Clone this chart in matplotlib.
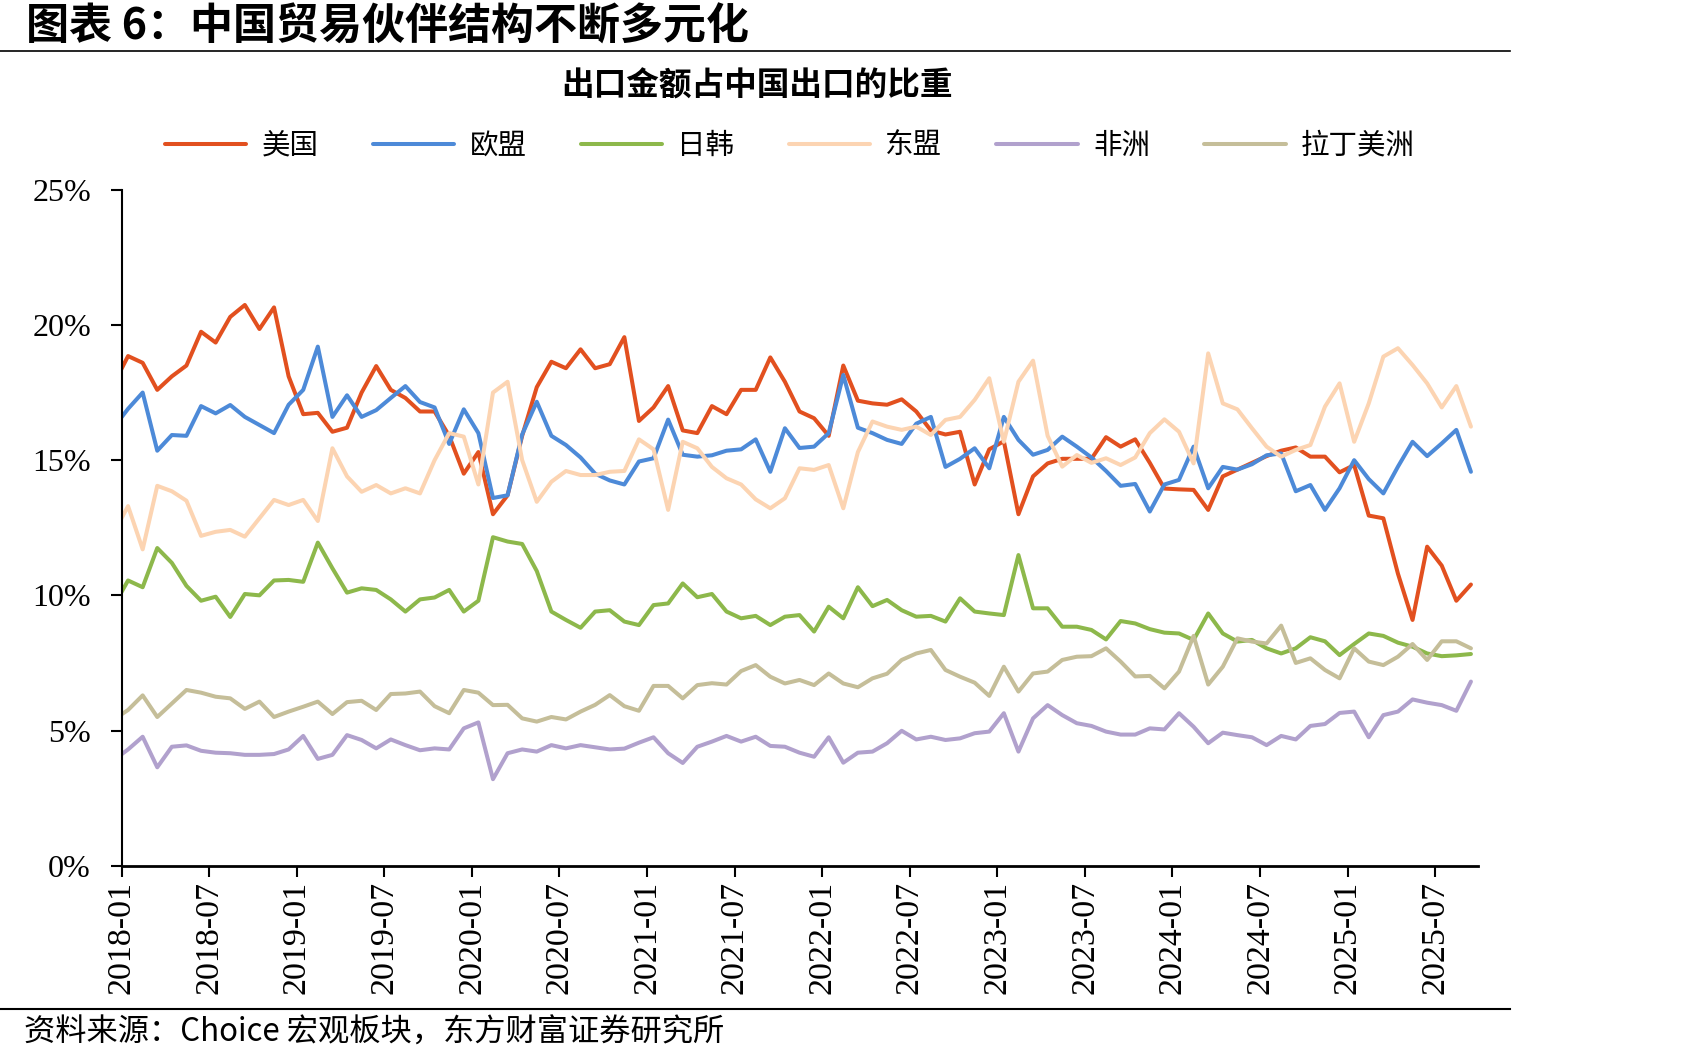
import numpy as np
import pandas as pd
import matplotlib
matplotlib.use("Agg")
import matplotlib.pyplot as plt
from matplotlib.lines import Line2D

plt.rcParams['font.family'] = ['Noto Sans CJK SC', 'DejaVu Sans']

# monthly share of China's exports (%), 2017-12 .. 2025-09
months = pd.date_range('2017-12-01', '2025-09-01', freq='MS').strftime('%Y-%m').tolist()

us = [17.8, 18.85, 18.6, 17.6, 18.1, 18.5, 19.75, 19.35, 20.3, 20.74, 19.85, 20.65, 18.1,
      16.7, 16.75, 16.05, 16.2, 17.5, 18.48, 17.6, 17.3, 16.8, 16.8, 15.9, 14.5,
      15.3, 13.0, 13.7, 15.9, 17.7, 18.64, 18.4, 19.1, 18.4, 18.55, 19.55, 16.45,
      16.95, 17.74, 16.1, 16.0, 17.0, 16.7, 17.6, 17.6, 18.8, 17.9, 16.8, 16.55,
      15.9, 18.5, 17.2, 17.1, 17.05, 17.25, 16.8, 16.1, 15.95, 16.05, 14.1, 15.4,
      15.7, 13.0, 14.4, 14.88, 15.05, 15.05, 15.05, 15.85, 15.5, 15.77, 14.9, 13.95,
      13.92, 13.9, 13.16, 14.4, 14.65, 14.9, 15.15, 15.35, 15.47, 15.13, 15.13, 14.55,
      14.82, 12.95, 12.85, 10.8, 9.09, 11.8, 11.1, 9.8, 10.4]
eu = [16.2, 16.9, 17.5, 15.35, 15.93, 15.9, 17.0, 16.73, 17.04, 16.6, 16.3, 16.0, 17.05,
      17.6, 19.2, 16.6, 17.4, 16.6, 16.85, 17.3, 17.74, 17.15, 16.95, 15.6, 16.88,
      16.0, 13.6, 13.7, 15.95, 17.16, 15.9, 15.56, 15.1, 14.5, 14.25, 14.1, 14.95,
      15.07, 16.5, 15.2, 15.13, 15.18, 15.35, 15.4, 15.77, 14.57, 16.18, 15.45, 15.5,
      16.0, 18.15, 16.2, 16.0, 15.75, 15.6, 16.35, 16.6, 14.75, 15.05, 15.44, 14.7,
      16.6, 15.75, 15.2, 15.38, 15.87, 15.5, 15.1, 14.6, 14.05, 14.12, 13.1, 14.1,
      14.27, 15.5, 13.96, 14.75, 14.65, 14.85, 15.18, 15.25, 13.85, 14.08, 13.16, 13.96,
      15.0, 14.3, 13.77, 14.76, 15.68, 15.15, 15.62, 16.12, 14.57]
jpkr = [9.6, 10.55, 10.3, 11.75, 11.2, 10.35, 9.8, 9.95, 9.2, 10.05, 10.0, 10.55, 10.57,
        10.5, 11.95, 11.0, 10.1, 10.26, 10.2, 9.85, 9.4, 9.85, 9.92, 10.2, 9.4,
        9.8, 12.15, 11.99, 11.9, 10.9, 9.4, 9.09, 8.8, 9.4, 9.45, 9.03, 8.9,
        9.64, 9.7, 10.44, 9.93, 10.05, 9.4, 9.15, 9.24, 8.9, 9.21, 9.27, 8.66,
        9.58, 9.15, 10.3, 9.6, 9.83, 9.45, 9.21, 9.24, 9.03, 9.89, 9.4, 9.33,
        9.27, 11.49, 9.52, 9.52, 8.84, 8.84, 8.72, 8.37, 9.05, 8.96, 8.75, 8.62,
        8.59, 8.35, 9.33, 8.59, 8.29, 8.35, 8.04, 7.85, 8.04, 8.45, 8.3, 7.79,
        8.2, 8.59, 8.5, 8.25, 8.1, 7.85, 7.75, 7.78, 7.83]
asean = [12.3, 13.3, 11.7, 14.05, 13.85, 13.5, 12.2, 12.35, 12.42, 12.17, 12.85, 13.53, 13.34,
         13.53, 12.75, 15.44, 14.4, 13.83, 14.08, 13.77, 13.96, 13.77, 15.0, 16.0, 15.87,
         14.1, 17.5, 17.9, 15.0, 13.46, 14.2, 14.6, 14.45, 14.45, 14.57, 14.6, 15.77,
         15.4, 13.16, 15.68, 15.44, 14.75, 14.33, 14.1, 13.55, 13.22, 13.59, 14.7, 14.64,
         14.82, 13.22, 15.3, 16.43, 16.24, 16.12, 16.24, 15.93, 16.49, 16.6, 17.23, 18.03,
         15.68, 17.9, 18.68, 15.9, 14.76, 15.19, 14.9, 15.07, 14.82, 15.1, 16.0, 16.51,
         16.05, 14.88, 18.95, 17.1, 16.88, 16.18, 15.5, 15.13, 15.38, 15.56, 16.98, 17.84,
         15.68, 17.1, 18.83, 19.14, 18.52, 17.84, 16.95, 17.74, 16.24]
africa = [3.9, 4.3, 4.77, 3.64, 4.4, 4.45, 4.25, 4.18, 4.16, 4.1, 4.1, 4.13, 4.3,
          4.8, 3.95, 4.1, 4.83, 4.65, 4.34, 4.67, 4.46, 4.27, 4.34, 4.3, 5.08,
          5.3, 3.2, 4.16, 4.3, 4.22, 4.46, 4.34, 4.46, 4.38, 4.3, 4.33, 4.55,
          4.75, 4.16, 3.8, 4.4, 4.59, 4.8, 4.59, 4.77, 4.43, 4.4, 4.18, 4.03,
          4.75, 3.81, 4.18, 4.22, 4.53, 4.99, 4.67, 4.77, 4.65, 4.71, 4.9, 4.96,
          5.64, 4.22, 5.45, 5.94, 5.57, 5.27, 5.17, 4.96, 4.85, 4.85, 5.08, 5.04,
          5.64, 5.14, 4.53, 4.92, 4.83, 4.75, 4.46, 4.8, 4.67, 5.17, 5.24, 5.65,
          5.7, 4.75, 5.57, 5.7, 6.15, 6.03, 5.94, 5.73, 6.81]
latam = [5.4, 5.76, 6.3, 5.5, 6.0, 6.5, 6.4, 6.25, 6.19, 5.8, 6.07, 5.5, 5.7,
         5.88, 6.07, 5.61, 6.05, 6.1, 5.76, 6.35, 6.37, 6.44, 5.9, 5.64, 6.5,
         6.4, 5.94, 5.95, 5.45, 5.33, 5.5, 5.41, 5.7, 5.95, 6.31, 5.9, 5.73,
         6.65, 6.65, 6.19, 6.68, 6.75, 6.7, 7.2, 7.42, 6.99, 6.74, 6.87, 6.68,
         7.11, 6.74, 6.6, 6.93, 7.1, 7.61, 7.85, 7.98, 7.24, 6.99, 6.77, 6.28,
         7.36, 6.44, 7.11, 7.18, 7.61, 7.73, 7.75, 8.04, 7.55, 7.0, 7.02, 6.56,
         7.18, 8.5, 6.7, 7.36, 8.41, 8.29, 8.22, 8.88, 7.5, 7.67, 7.24, 6.93,
         8.04, 7.55, 7.42, 7.73, 8.2, 7.61, 8.3, 8.3, 8.04]

names = ["美国", "欧盟", "日韩", "东盟", "非洲", "拉丁美洲"]
colors = ["#E2501F", "#4D8AD8", "#8DB84B", "#FCD4B2", "#B1A1CD", "#C5BE99"]
values = [us, eu, jpkr, asean, africa, latam]

fig = plt.figure(figsize=(17.01, 10.63), dpi=100)
ax = fig.add_axes([121.5 / 1701, 1 - 865.7 / 1063, (1477.5 - 121.5) / 1701, (865.7 - 189.8) / 1063])

# points sit mid-month; the 2017-12 point lies left of the axis and gets clipped
x = np.arange(len(months)) - 1 + 0.45
for name, vals, c in zip(names, values, colors):
    ax.plot(x, vals, color=c, lw=2.9, label=name, solid_joinstyle='round', solid_capstyle='round')

ax.set_xlim(0, 92.9)
ax.set_ylim(0, 25)

yticks = [0, 5, 10, 15, 20, 25]
ax.set_yticks(yticks)
ax.set_yticklabels([f"{t}%" for t in yticks], fontfamily='Liberation Serif', fontsize=23)

tick_idx = list(range(1, len(months), 6))
ax.set_xticks([i - 1 for i in tick_idx])
ax.set_xticklabels([months[i] for i in tick_idx], rotation=90, fontfamily='Liberation Serif', fontsize=24.5)

for s in ['top', 'right']:
    ax.spines[s].set_visible(False)
ax.spines['left'].set_linewidth(1.5)
ax.spines['bottom'].set_linewidth(2.0)
ax.tick_params(axis='y', direction='out', length=8, width=1.5, pad=14)
ax.tick_params(axis='x', direction='out', length=8, width=1.5, pad=3)

fig.legend(ncol=6, loc='center', bbox_to_anchor=(790 / 1701, 1 - 146 / 1063), frameon=False,
           fontsize=20.5, handlelength=2.85, handletextpad=0.55, columnspacing=1.9)

fig.text(26 / 1701, 1 - 27 / 1063, "图表 6：中国贸易伙伴结构不断多元化", fontsize=31,
         fontweight='bold', va='center', ha='left')
fig.add_artist(Line2D([0, 1510 / 1701], [1 - 51 / 1063] * 2, color='black', lw=1.2))
fig.text(757 / 1701, 1 - 86 / 1063, "出口金额占中国出口的比重", fontsize=23.5,
         fontweight='bold', va='center', ha='center')
fig.add_artist(Line2D([0, 1510 / 1701], [1 - 1009 / 1063] * 2, color='black', lw=1.5))
fig.text(24 / 1701, 1 - 1033 / 1063, "资料来源：Choice 宏观板块，东方财富证券研究所", fontsize=22.5,
         va='center', ha='left')

fig.savefig("out.png", dpi=100)
